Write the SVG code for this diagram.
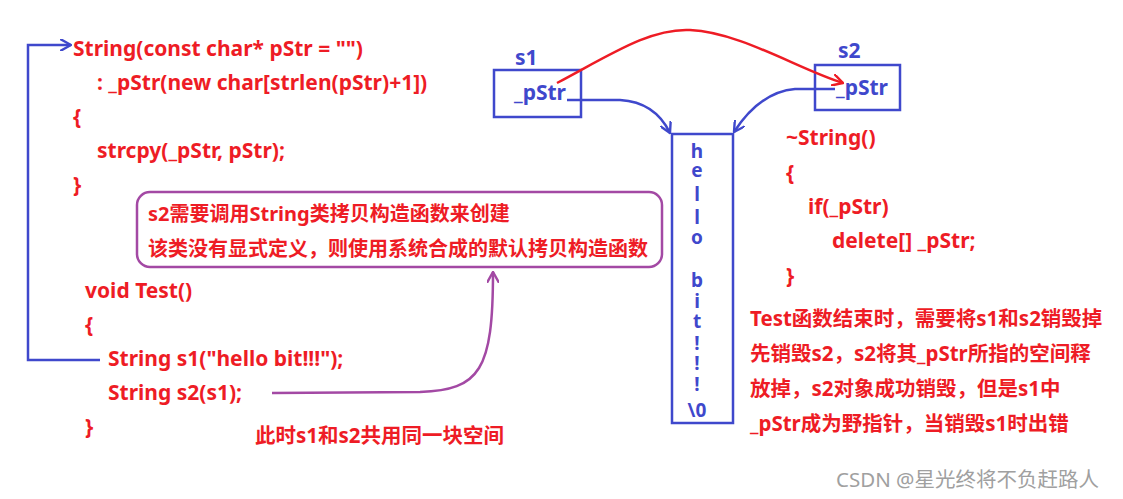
<svg xmlns="http://www.w3.org/2000/svg" width="1123" height="499" viewBox="0 0 1123 499">
<defs>
<style>
text{font-family:"Noto Sans","Noto Sans CJK SC",sans-serif;font-weight:bold}
.r{fill:#ee1c25;font-size:21px}
.c{fill:#ee1c25;font-size:20.5px}
.b{fill:#3f48cc;font-size:21px}
.ch{fill:#3f48cc;font-size:19px;text-anchor:middle}
.bl{fill:none;stroke:#3f48cc;stroke-width:2.5}
.rl{fill:none;stroke:#ee1c25;stroke-width:2.5}
.pl{fill:none;stroke:#a349a4;stroke-width:2.5}
.wm{fill:#a0a0a0;font-size:20.5px;font-weight:normal}
</style>
<marker id="ab" viewBox="0 0 10 10" refX="9" refY="5" markerWidth="12" markerHeight="12" orient="auto" markerUnits="userSpaceOnUse"><path d="M0,0 L9,5 L0,10" fill="none" stroke="#3f48cc" stroke-width="2"/></marker>
<marker id="ar" viewBox="0 0 10 10" refX="9" refY="5" markerWidth="12" markerHeight="12" orient="auto" markerUnits="userSpaceOnUse"><path d="M0,0 L9,5 L0,10" fill="none" stroke="#ee1c25" stroke-width="2"/></marker>
<marker id="ap" viewBox="0 0 10 10" refX="9" refY="5" markerWidth="12" markerHeight="12" orient="auto" markerUnits="userSpaceOnUse"><path d="M0,0 L9,5 L0,10" fill="none" stroke="#a349a4" stroke-width="2"/></marker>
</defs>
<rect width="1123" height="499" fill="#ffffff"/>

<g id="ctor">
<text class="r" x="73" y="56">String(const char* pStr = "")</text>
<text class="r" x="97" y="90">: _pStr(new char[strlen(pStr)+1])</text>
<text class="r" x="73" y="124">{</text>
<text class="r" x="97" y="158">strcpy(_pStr, pStr);</text>
<text class="r" x="73" y="192">}</text>
</g>

<g id="note1">
<rect x="137" y="192" width="525" height="75" rx="13" ry="13" fill="none" stroke="#a349a4" stroke-width="2.5"/>
<text class="c" x="148" y="221" style="font-size:20px">s2需要调用String类拷贝构造函数来创建</text>
<text class="c" x="148" y="256" style="font-size:20px">该类没有显式定义，则使用系统合成的默认拷贝构造函数</text>
</g>

<g id="test">
<text class="r" x="85" y="298">void Test()</text>
<text class="r" x="85" y="332">{</text>
<text class="r" x="108" y="366">String s1("hello bit!!!");</text>
<text class="r" x="108" y="400">String s2(s1);</text>
<text class="r" x="85" y="434">}</text>
</g>

<g id="note2">
<text class="c" x="255" y="443">此时s1和s2共用同一块空间</text>
</g>

<g id="s1">
<text class="b" x="515" y="65">s1</text>
<rect x="494" y="70" width="87" height="47" fill="none" stroke="#3f48cc" stroke-width="2.5"/>
<text class="b" x="514" y="100">_pStr</text>
</g>

<g id="s2">
<text class="b" x="838" y="58">s2</text>
<rect x="815" y="65" width="85" height="45" fill="none" stroke="#3f48cc" stroke-width="2.5"/>
<text class="b" x="836" y="95">_pStr</text>
</g>

<g id="heap">
<rect x="672" y="134" width="61" height="289" fill="none" stroke="#3f48cc" stroke-width="2.5"/>
<text class="ch" x="697" y="158">h</text>
<text class="ch" x="697" y="177">e</text>
<text class="ch" x="697" y="201">l</text>
<text class="ch" x="697" y="224">l</text>
<text class="ch" x="697" y="244">o</text>
<text class="ch" x="697" y="287">b</text>
<text class="ch" x="697" y="308">i</text>
<text class="ch" x="697" y="328">t</text>
<text class="ch" x="697" y="350">!</text>
<text class="ch" x="697" y="370">!</text>
<text class="ch" x="697" y="391">!</text>
<text class="ch" x="697" y="417">\0</text>
</g>

<g id="dtor">
<text class="r" x="786" y="145">~String()</text>
<text class="r" x="786" y="180">{</text>
<text class="r" x="808" y="214">if(_pStr)</text>
<text class="r" x="832" y="248">delete[] _pStr;</text>
<text class="r" x="786" y="283">}</text>
</g>

<g id="note3">
<text class="c" x="750" y="326">Test函数结束时，需要将s1和s2销毁掉</text>
<text class="c" x="750" y="361">先销毁s2，s2将其_pStr所指的空间释</text>
<text class="c" x="750" y="396">放掉，s2对象成功销毁，但是s1中</text>
<text class="c" x="750" y="431">_pStr成为野指针，当销毁s1时出错</text>
</g>

<g id="connectors">
<path class="bl" d="M100,360 L28,360 L28,45 L71,45" marker-end="url(#ab)"/>
<path class="bl" d="M567,100 L620,100 Q655,102 670,133" marker-end="url(#ab)"/>
<path class="bl" d="M835,89 L795,89 Q760,92 734,132" marker-end="url(#ab)"/>
<path class="rl" d="M557,83 C610,55 650,28 690,30 C740,32 800,70 843,83" marker-end="url(#ar)"/>
<path class="pl" d="M272,393 L420,392 C480,390 493,370 493,272" marker-end="url(#ap)"/>
</g>

<text class="wm" x="836" y="487">CSDN @星光终将不负赶路人</text>
</svg>
